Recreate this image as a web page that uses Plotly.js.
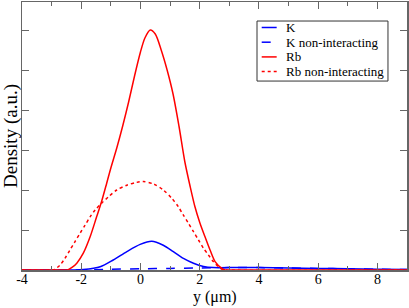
<!DOCTYPE html>
<html>
<head>
<meta charset="utf-8">
<script src="https://cdn.plot.ly/plotly-3.0.1.min.js"></script>
<style>html,body{margin:0;padding:0;background:#fff;}#chart{width:409px;height:308px;}</style>
</head>
<body>
<div id="chart"></div>
<script>
// Rb (interacting)
const rbX = [-4, -3, -2.6, -2.44, -2.3, -2.15, -1.93, -1.7, -1.48, -1.31, -1.14, -1.0, -0.8, -0.6, -0.4, -0.2, 0.0, 0.15, 0.33, 0.5, 0.7, 0.9, 1.1, 1.3, 1.5, 1.68, 1.84, 2.01, 2.18, 2.35, 2.52, 2.75, 2.86, 3.2, 9];
const rbY = [0, 0, 0, 0.01, 0.07, 0.17, 0.42, 0.83, 1.33, 1.72, 2.17, 2.55, 3.05, 3.6, 4.2, 4.85, 5.45, 5.8, 6.0, 5.9, 5.5, 5.0, 4.4, 3.6, 2.7, 2.08, 1.58, 1.17, 0.83, 0.5, 0.21, 0.04, 0, 0, 0];
// Rb non-interacting
const rbNiX = [-4, -2.95, -2.89, -2.72, -2.55, -2.38, -2.21, -2.04, -1.87, -1.7, -1.53, -1.31, -1.08, -0.8, -0.46, -0.13, 0.1, 0.44, 0.77, 1.06, 1.28, 1.45, 1.62, 1.79, 1.96, 2.13, 2.29, 2.46, 2.63, 2.75, 2.9, 9];
const rbNiY = [0, 0, 0.02, 0.12, 0.29, 0.5, 0.71, 0.92, 1.12, 1.33, 1.5, 1.67, 1.83, 2.0, 2.12, 2.19, 2.21, 2.15, 2.0, 1.79, 1.58, 1.37, 1.17, 0.96, 0.75, 0.54, 0.38, 0.21, 0.08, 0.02, 0, 0];
// K (interacting)
const kX = [-4, -2.3, -1.93, -1.36, -0.92, -0.46, -0.01, 0.38, 0.77, 1.11, 1.45, 1.79, 2.13, 2.46, 3, 4, 5, 6, 7, 8, 9];
const kY = [0, 0, 0.01, 0.08, 0.25, 0.46, 0.64, 0.72, 0.62, 0.46, 0.29, 0.17, 0.09, 0.06, 0.06, 0.06, 0.05, 0.04, 0.03, 0.02, 0.01];
// K non-interacting
const kNiX = [-4, -1.7, -1, 0, 1, 2, 3, 4, 5, 6, 7, 8, 9];
const kNiY = [0, 0, 0.02, 0.03, 0.04, 0.05, 0.06, 0.06, 0.05, 0.04, 0.03, 0.02, 0.01];

const seriesNames = ["K", "K non-interacting", "Rb", "Rb non-interacting"];
const seriesColors = ["#0000ff", "#0000ff", "#ff0000", "#ff0000"];
const seriesDash = ["solid", "dash", "solid", "dot"];

const xTickVals = [-4, -2, 0, 2, 4, 6, 8];
const xTickText = ["-4", "-2", "0", "2", "4", "6", "8"];

const serif = "Liberation Serif, Times New Roman, serif";
const axisCol = "#666666";

const xs = [kX, kNiX, rbX, rbNiX];
const ys = [kY, kNiY, rbY, rbNiY];
const traces = xs.map((x, i) => ({
  x: x, y: ys[i], name: seriesNames[i], mode: "lines", showlegend: false,
  line: {color: seriesColors[i], width: 1.5, dash: seriesDash[i], shape: "spline", smoothing: 0.8}
}));

// custom compact legend (paper coordinates)
const legRowsY = [0.9049, 0.8500, 0.7951, 0.7403];
const shapes = [
  {type: "rect", xref: "paper", yref: "paper", x0: 0.6104, x1: 0.9506, y0: 0.705, y1: 0.929,
   line: {color: "#333", width: 1}, fillcolor: "#fff", layer: "above"}
];
const annotations = [];
seriesNames.forEach((n, i) => {
  shapes.push({type: "line", xref: "paper", yref: "paper", x0: 0.6226, x1: 0.6615,
    y0: legRowsY[i], y1: legRowsY[i], layer: "above",
    line: {color: seriesColors[i], width: 1.5, dash: seriesDash[i]}});
  annotations.push({xref: "paper", yref: "paper", x: 0.683, y: legRowsY[i], xanchor: "left", yanchor: "middle",
    text: n, showarrow: false, borderpad: 0, font: {family: serif, size: 13, color: "#000"}});
});
annotations.push({xref: "paper", yref: "paper", x: 0.5, y: -0.138, xanchor: "center", yanchor: "bottom",
  text: "y (μm)", showarrow: false, borderpad: 0, font: {family: serif, size: 16, color: "#000"}});

const layout = {
  width: 409, height: 308,
  margin: {l: 22, r: 2, t: 2, b: 38},
  paper_bgcolor: "#ffffff", plot_bgcolor: "#ffffff",
  font: {family: serif, color: "#000"},
  showlegend: false,
  shapes: shapes,
  annotations: annotations,
  xaxis: {
    range: [-4, 9], showgrid: false, zeroline: false,
    showline: true, linecolor: axisCol, linewidth: 1.5, mirror: "allticks",
    ticks: "inside", ticklen: 7, tickcolor: axisCol, tickwidth: 1,
    tickmode: "array", tickvals: xTickVals, ticktext: xTickText,
    tickfont: {family: serif, size: 14, color: "#000"},
    ticklabelstandoff: -4,
    minor: {dtick: 1, ticks: "inside", ticklen: 4, tickcolor: axisCol, tickwidth: 1, showgrid: false}
  },
  yaxis: {
    range: [0, 6.7], showgrid: false, zeroline: false,
    showline: true, linecolor: axisCol, linewidth: 1.5, mirror: "allticks",
    ticks: "inside", ticklen: 7, tickcolor: axisCol, tickwidth: 1,
    dtick: 1, tick0: 0, showticklabels: false,
    title: {text: "Density (a.u.)", font: {family: serif, size: 19, color: "#000"}, standoff: 0}
  }
};

Plotly.newPlot("chart", traces, layout, {displayModeBar: false, staticPlot: true});
</script>
</body>
</html>
